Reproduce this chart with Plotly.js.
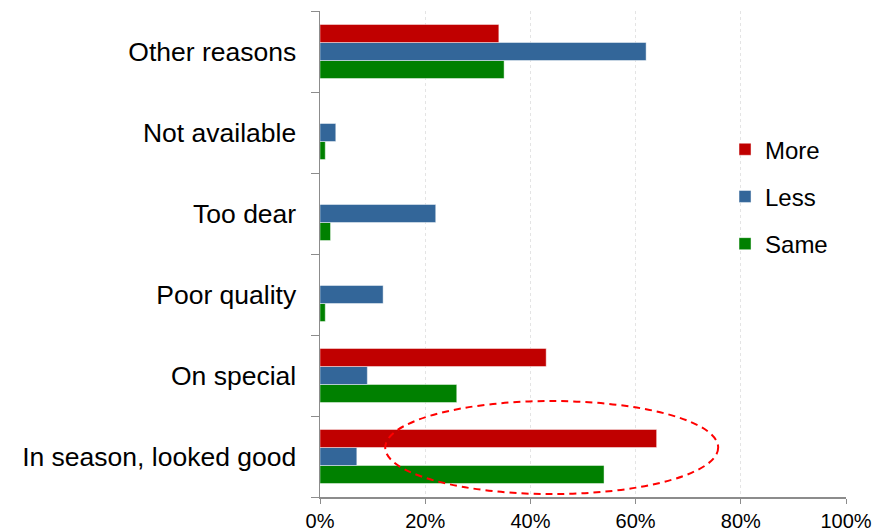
<!DOCTYPE html>
<html>
<head>
<meta charset="utf-8">
<script src="https://cdn.plot.ly/plotly-3.0.1.min.js"></script>
<style>html,body{margin:0;padding:0;background:#fff;}#chart{width:894px;height:532px;}</style>
</head>
<body>
<div id="chart"></div>
<script>
// Categories listed bottom to top
const categories = ["In season, looked good", "On special", "Poor quality", "Too dear", "Not available", "Other reasons"];
const moreValues = [64, 43, 0, 0, 0, 34];
const lessValues = [7, 9, 12, 22, 3, 62];
const sameValues = [54, 26, 1, 2, 1, 35];
const xTickValues = [0, 20, 40, 60, 80, 100];

const seriesNames = ["Same", "Less", "More"];
const seriesValues = [sameValues, lessValues, moreValues];
const seriesColors = ["#008000", "#336699", "#C00000"];
const legendRanks = [3, 2, 1];

const traces = seriesNames.map((name, i) => ({
  type: "bar",
  orientation: "h",
  name: name,
  legendgroup: name,
  legendrank: legendRanks[i],
  y: categories,
  x: seriesValues[i],
  marker: { color: seriesColors[i], line: { color: "rgba(255,255,255,0.45)", width: 1 } },
  hoverinfo: "x+y+name"
}));

const layout = {
  width: 894,
  height: 532,
  margin: { l: 320, r: 48, t: 11, b: 35, pad: 0 },
  paper_bgcolor: "#ffffff",
  plot_bgcolor: "#ffffff",
  font: { family: "Liberation Sans, Arial, sans-serif", color: "#000000" },
  barmode: "group",
  bargap: 0.333,
  bargroupgap: 0,
  showlegend: true,
  legend: {
    x: 0.77, y: 0.761, xanchor: "left", yanchor: "top",
    traceorder: "grouped",
    tracegroupgap: 13,
    font: { size: 24, color: "#000000" },
    bgcolor: "rgba(0,0,0,0)"
  },
  xaxis: {
    range: [0, 100],
    tickvals: xTickValues,
    ticktext: xTickValues.map(v => v + "%"),
    showgrid: true,
    gridcolor: "#e4e4e4",
    griddash: "dot",
    gridwidth: 1,
    showline: true,
    linecolor: "#8c8c8c",
    linewidth: 1.5,
    ticks: "outside",
    ticklen: 5,
    tickcolor: "#8c8c8c",
    tickfont: { size: 20 },
    zeroline: false,
    automargin: false,
    fixedrange: true
  },
  yaxis: {
    type: "category",
    categoryorder: "array",
    categoryarray: categories,
    showline: true,
    linecolor: "#8c8c8c",
    linewidth: 1.5,
    ticks: "outside",
    tickson: "boundaries",
    ticklen: 8,
    tickcolor: "#8c8c8c",
    tickfont: { size: 26.5 },
    ticklabelstandoff: 17,
    showgrid: false,
    zeroline: false,
    automargin: false,
    fixedrange: true
  },
  shapes: [{
    type: "circle",
    xref: "x", yref: "paper",
    x0: 12.4, x1: 75.7,
    y0: 0.006, y1: 0.1975,
    line: { color: "#FF0000", width: 2, dash: "7px,5px" },
    fillcolor: "rgba(0,0,0,0)"
  }]
};

Plotly.newPlot("chart", traces, layout, { displayModeBar: false, staticPlot: true });
</script>
</body>
</html>
